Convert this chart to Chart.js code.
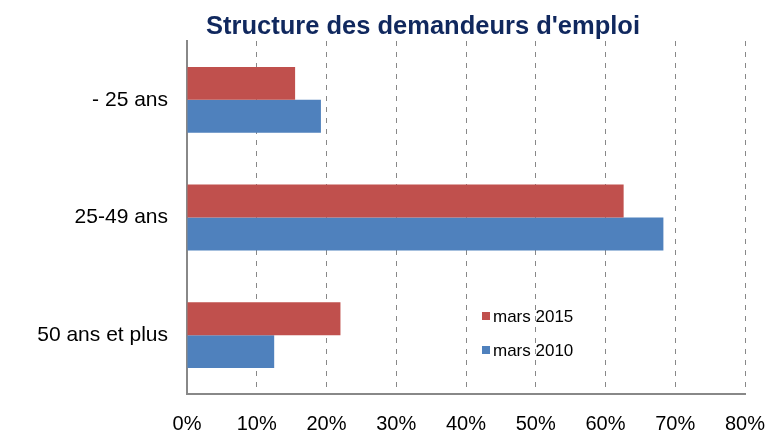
<!DOCTYPE html>
<html>
<head>
<meta charset="utf-8">
<script src="https://cdn.jsdelivr.net/npm/chart.js@4/dist/chart.umd.min.js"></script>
<style>
  html, body { margin: 0; padding: 0; background: #fff; }
  #wrap { width: 766px; height: 430px; }
</style>
</head>
<body>
<div id="wrap"><canvas id="graf"></canvas></div>
<script>
var categorias = ["- 25 ans", "25-49 ans", "50 ans et plus"];
var mars2015 = [15.5, 62.6, 22.0];
var mars2010 = [19.2, 68.3, 12.5];
var ticksX = [0, 10, 20, 30, 40, 50, 60, 70, 80];
var titulo = "Structure des demandeurs d'emploi";

var fonte = "'Liberation Sans', Arial, sans-serif";

// titre et legende dessines a la main (positions du modele)
var textosExtras = {
  id: "textosExtras",
  afterDraw: function (chart) {
    var ctx = chart.ctx;
    var area = chart.chartArea;
    ctx.save();

    ctx.font = "bold 25.5px " + fonte;
    ctx.fillStyle = "#10285E";
    ctx.textAlign = "center";
    ctx.textBaseline = "alphabetic";
    ctx.fillText(titulo, 423, 34);

    ctx.textAlign = "left";
    ctx.textBaseline = "middle";
    ctx.font = "17px " + fonte;
    var x = area.left + 295;
    var y = 316;
    chart.data.datasets.forEach(function (ds, i) {
      var yy = y + i * 34;
      ctx.fillStyle = ds.backgroundColor;
      ctx.fillRect(x, yy - 4, 8, 8);
      ctx.fillStyle = "#000";
      ctx.fillText(ds.label, x + 11, yy + 1);
    });
    ctx.restore();
  }
};

var ctx = document.getElementById("graf").getContext("2d");

var grafico = new Chart(ctx, {
  type: "bar",
  data: {
    labels: categorias,
    datasets: [
      {
        label: "mars 2015",
        data: mars2015,
        backgroundColor: "#C0504D",
        borderWidth: 0,
        barPercentage: 1,
        categoryPercentage: 0.56
      },
      {
        label: "mars 2010",
        data: mars2010,
        backgroundColor: "#4F81BD",
        borderWidth: 0,
        barPercentage: 1,
        categoryPercentage: 0.56
      }
    ]
  },
  options: {
    indexAxis: "y",
    responsive: true,
    maintainAspectRatio: false,
    animation: false,
    layout: {
      padding: { left: 0, right: 0, top: 41, bottom: 0 }
    },
    plugins: {
      legend: { display: false },
      tooltip: { enabled: false },
      title: { display: false }
    },
    scales: {
      x: {
        min: 0,
        max: 80,
        afterBuildTicks: function (scale) {
          scale.ticks = ticksX.map(function (v) { return { value: v }; });
        },
        afterFit: function (scale) {
          scale.height = 36;
          scale.paddingRight = 21;
        },
        grid: {
          display: true,
          drawTicks: false,
          color: "#888888",
          lineWidth: 1
        },
        border: {
          display: true,
          color: "#888888",
          width: 2,
          dash: [5, 6]
        },
        ticks: {
          padding: 18,
          color: "#000",
          font: { family: fonte, size: 20 },
          callback: function (v) { return v + "%"; }
        }
      },
      y: {
        afterFit: function (scale) {
          scale.width = 187;
        },
        grid: {
          display: false,
          drawTicks: false
        },
        border: {
          display: true,
          color: "#888888",
          width: 2
        },
        ticks: {
          padding: 19,
          color: "#000",
          font: { family: fonte, size: 21 }
        }
      }
    }
  },
  plugins: [textosExtras]
});
</script>
</body>
</html>
